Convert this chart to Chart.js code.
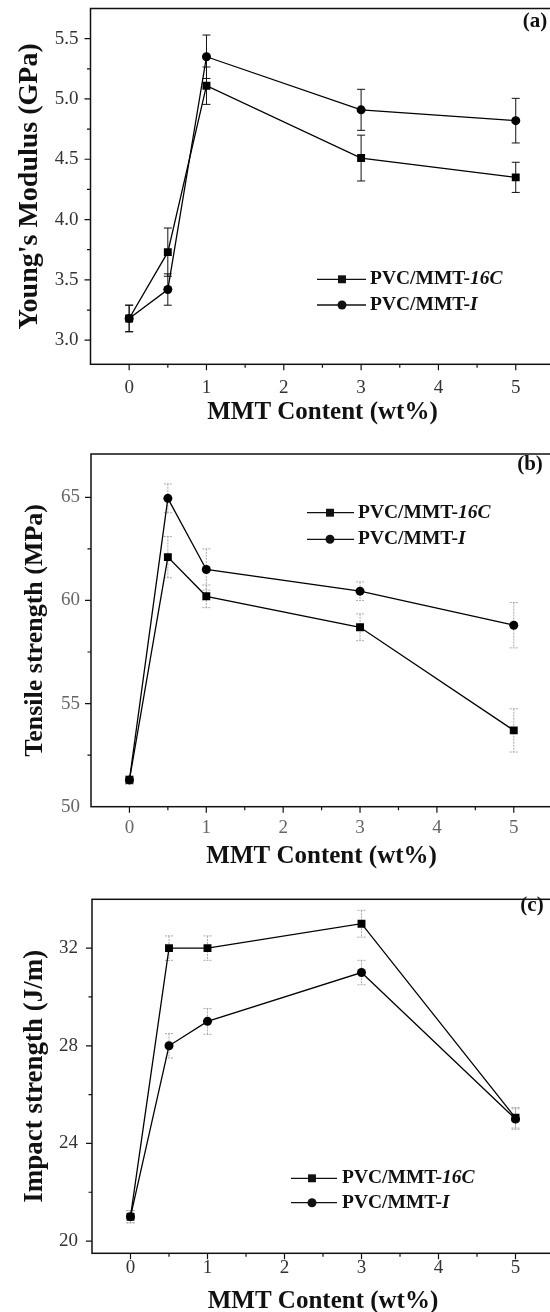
<!DOCTYPE html>
<html>
<head>
<meta charset="utf-8">
<title>PVC/MMT mechanical properties</title>
<script src="https://cdn.jsdelivr.net/npm/chart.js@4.4.1/dist/chart.umd.min.js"></script>
<style>
  html, body { margin: 0; padding: 0; background: #fff; overflow: hidden; }
  #figure { position: relative; width: 550px; height: 1312px; overflow: hidden; background: #fff; }
  #figure canvas { position: absolute; left: 0; }
</style>
</head>
<body>
<div id="figure">
  <canvas id="panel-a" width="560" height="440" style="top:0"></canvas>
  <canvas id="panel-b" width="560" height="440" style="top:440px"></canvas>
  <canvas id="panel-c" width="560" height="440" style="top:880px"></canvas>
</div>
<script>
// MMT loading, wt%
const mmtContent = [0, 0.5, 1, 3, 5];
const seriesNames = ["PVC/MMT-16C", "PVC/MMT-I"];

// (a) Young's modulus, GPa
const modulus16C = [3.18, 3.73, 5.11, 4.51, 4.35];
const modulus16CErr = [0.11, 0.2, 0.155, 0.19, 0.125];
const modulusI = [3.18, 3.42, 5.35, 4.91, 4.82];
const modulusIErr = [0.11, 0.13, 0.18, 0.17, 0.185];

// (b) tensile strength, MPa
const tensile16C = [51.3, 62.1, 60.2, 58.7, 53.7];
const tensile16CErr = [0.2, 1.0, 0.55, 0.65, 1.05];
const tensileI = [51.3, 64.95, 61.5, 60.45, 58.8];
const tensileIErr = [0.2, 0.7, 1.0, 0.45, 1.1];

// (c) impact strength, J/m
const impact16C = [21.0, 32.0, 32.0, 33.0, 25.05];
const impact16CErr = [0.25, 0.5, 0.5, 0.55, 0.42];
const impactI = [21.0, 28.0, 29.0, 31.0, 25.0];
const impactIErr = [0.25, 0.5, 0.53, 0.5, 0.42];

// labelled ticks (the rest are minor)
const xLabels = [0, 1, 2, 3, 4, 5];
const modulusLabels = [3.0, 3.5, 4.0, 4.5, 5.0, 5.5];
const tensileLabels = [50, 55, 60, 65];
const impactLabels = [20, 24, 28, 32];

const SERIF = '"Liberation Serif", "Times New Roman", serif';
const W = 560, H = 440;

const has = (list, v) => list.some((l) => Math.abs(l - v) < 1e-9);

function points(values) {
  return mmtContent.map((x, i) => ({ x, y: values[i] }));
}

function series(name, values, errors, style) {
  return {
    label: name,
    data: points(values),
    errors,
    borderColor: "#000",
    backgroundColor: "#000",
    borderWidth: 1.3,
    pointStyle: style,
    pointRadius: style === "rect" ? 5.6 : 4.5,
    pointBorderWidth: 0,
    tension: 0,
  };
}

function marker(ctx, style, x, y, r) {
  ctx.beginPath();
  if (style === "rect") {
    const s = r * Math.SQRT1_2;
    ctx.rect(x - s, y - s, 2 * s, 2 * s);
  } else {
    ctx.arc(x, y, r, 0, Math.PI * 2);
  }
  ctx.fill();
}

// error bars, frame, tick marks, legend and panel tag
const figure = {
  id: "figure",
  beforeDatasetsDraw(chart, args, o) {
    const { ctx, scales: { x, y } } = chart;
    ctx.save();
    ctx.strokeStyle = o.errColor;
    ctx.lineWidth = 1;
    ctx.setLineDash(o.errDash);
    chart.data.datasets.forEach((ds) => {
      ds.data.forEach((p, i) => {
        const e = ds.errors[i];
        const px = x.getPixelForValue(p.x);
        const hi = y.getPixelForValue(p.y + e);
        const lo = y.getPixelForValue(p.y - e);
        ctx.beginPath();
        ctx.moveTo(px, hi); ctx.lineTo(px, lo);
        ctx.moveTo(px - 4, hi); ctx.lineTo(px + 4, hi);
        ctx.moveTo(px - 4, lo); ctx.lineTo(px + 4, lo);
        ctx.stroke();
      });
    });
    ctx.restore();
  },
  afterDraw(chart, args, o) {
    const { ctx, chartArea: a, scales: { x, y } } = chart;
    ctx.save();
    ctx.strokeStyle = "#111";
    ctx.fillStyle = "#111";
    ctx.lineWidth = 1.5;
    ctx.strokeRect(a.left, a.top, a.right - a.left, a.bottom - a.top);

    ctx.lineWidth = 1.2;
    ctx.beginPath();
    x.ticks.forEach((t) => {
      if (t.value <= x.min || t.value >= x.max) return;
      const px = x.getPixelForValue(t.value);
      ctx.moveTo(px, a.bottom);
      ctx.lineTo(px, a.bottom + (t.label ? 6 : 3.5));
    });
    y.ticks.forEach((t) => {
      if (t.value <= y.min || t.value >= y.max) return;
      const py = y.getPixelForValue(t.value);
      ctx.moveTo(a.left, py);
      ctx.lineTo(a.left - (t.label ? 6 : 3.5), py);
    });
    ctx.stroke();

    const lg = o.legend;
    ctx.textBaseline = "middle";
    ctx.textAlign = "left";
    chart.data.datasets.forEach((ds, i) => {
      const ly = lg.rows[i];
      ctx.lineWidth = 1.3;
      ctx.beginPath();
      ctx.moveTo(lg.x0, ly);
      ctx.lineTo(lg.x1, ly);
      ctx.stroke();
      marker(ctx, ds.pointStyle, lg.xm, ly, ds.pointRadius);
      const cut = ds.label.lastIndexOf("-") + 1;
      const head = ds.label.slice(0, cut);
      ctx.font = `bold 19.5px ${SERIF}`;
      ctx.fillText(head, lg.xt, ly);
      const w = ctx.measureText(head).width;
      ctx.font = `italic bold 19.5px ${SERIF}`;
      ctx.fillText(ds.label.slice(cut), lg.xt + w, ly);
    });

    ctx.font = `bold 21px ${SERIF}`;
    ctx.textAlign = "center";
    ctx.fillText(o.tag, o.tagX, o.tagY);
    ctx.restore();
  },
};

function makePanel(id, p) {
  return new Chart(document.getElementById(id), {
    type: "line",
    data: { datasets: p.datasets },
    plugins: [figure],
    options: {
      responsive: false,
      animation: false,
      devicePixelRatio: 1,
      layout: { padding: { top: p.area.top, right: W - p.area.right, left: 0, bottom: 0 } },
      scales: {
        x: {
          type: "linear",
          min: -0.5,
          max: 5.5,
          grid: { display: false, drawTicks: false },
          border: { display: false },
          ticks: {
            stepSize: 0.5,
            autoSkip: false,
            maxRotation: 0,
            includeBounds: false,
            padding: p.xPad,
            color: p.tickColor,
            font: { family: SERIF, size: 19, lineHeight: 1 },
            callback: (v) => (has(xLabels, v) ? String(v) : ""),
          },
          title: {
            display: true,
            text: "MMT Content (wt%)",
            color: "#111",
            font: { family: SERIF, size: 25, weight: "bold", lineHeight: 1 },
            padding: { top: 0, bottom: p.xTitleBottom },
          },
          afterFit(s) {
            s.height = H - p.area.bottom;
            s.paddingLeft = 0;
            s.paddingRight = 0;
          },
        },
        y: {
          type: "linear",
          min: p.yMin,
          max: p.yMax,
          grid: { display: false, drawTicks: false },
          border: { display: false },
          ticks: {
            stepSize: p.yStep,
            autoSkip: false,
            includeBounds: false,
            padding: p.yPad,
            color: p.tickColor,
            font: { family: SERIF, size: 19, lineHeight: 1 },
            callback: (v) => (has(p.yLabels, v) ? p.yFmt(v) : ""),
          },
          title: {
            display: true,
            text: p.yTitle,
            color: "#111",
            font: { family: SERIF, size: p.yTitleSize, weight: "bold", lineHeight: 1 },
            padding: { top: p.yTitleX - p.yTitleSize / 2, bottom: 0 },
          },
          afterFit(s) {
            s.width = p.area.left;
            s.paddingTop = 0;
            s.paddingBottom = 0;
          },
        },
      },
      plugins: {
        legend: { display: false },
        tooltip: { enabled: false },
        figure: {
          errColor: p.errColor,
          errDash: p.errDash,
          legend: p.legend,
          tag: p.tag,
          tagX: p.tagX,
          tagY: p.tagY,
        },
      },
    },
  });
}

makePanel("panel-a", {
  datasets: [
    series(seriesNames[0], modulus16C, modulus16CErr, "rect"),
    series(seriesNames[1], modulusI, modulusIErr, "circle"),
  ],
  area: { top: 8.5, left: 90.5, bottom: 364.3, right: 556.7 },
  yMin: 2.8, yMax: 5.75, yStep: 0.25,
  yLabels: modulusLabels, yFmt: (v) => v.toFixed(1),
  yTitle: "Young's Modulus (GPa)", yTitleX: 30, yTitleSize: 28,
  xPad: 14, yPad: 12, xTitleBottom: 14.5,
  tickColor: "#333",
  errColor: "#111", errDash: [],
  legend: { x0: 317, x1: 366, xm: 342, xt: 370, rows: [279.3, 305] },
  tag: "(a)", tagX: 535, tagY: 22,
});

makePanel("panel-b", {
  datasets: [
    series(seriesNames[0], tensile16C, tensile16CErr, "rect"),
    series(seriesNames[1], tensileI, tensileIErr, "circle"),
  ],
  area: { top: 14, left: 91, bottom: 366.7, right: 552.2 },
  yMin: 50, yMax: 67.1, yStep: 2.5,
  yLabels: tensileLabels, yFmt: (v) => String(v),
  yTitle: "Tensile strength (MPa)", yTitleX: 35, yTitleSize: 26,
  xPad: 12, yPad: 11, xTitleBottom: 10.5,
  tickColor: "#666",
  errColor: "#aaa", errDash: [2, 1],
  legend: { x0: 307, x1: 354, xm: 330, xt: 358, rows: [72.7, 99.3] },
  tag: "(b)", tagX: 530, tagY: 25,
});

makePanel("panel-c", {
  datasets: [
    series(seriesNames[0], impact16C, impact16CErr, "rect"),
    series(seriesNames[1], impactI, impactIErr, "circle"),
  ],
  area: { top: 19.3, left: 92, bottom: 373.3, right: 554 },
  yMin: 19.5, yMax: 34, yStep: 2,
  yLabels: impactLabels, yFmt: (v) => String(v),
  yTitle: "Impact strength (J/m)", yTitleX: 35, yTitleSize: 27,
  xPad: 5.5, yPad: 14, xTitleBottom: 5.5,
  tickColor: "#333",
  errColor: "#aaa", errDash: [2, 1],
  legend: { x0: 291, x1: 337, xm: 312, xt: 342, rows: [298.3, 322.7] },
  tag: "(c)", tagX: 532, tagY: 26,
});
</script>
</body>
</html>
